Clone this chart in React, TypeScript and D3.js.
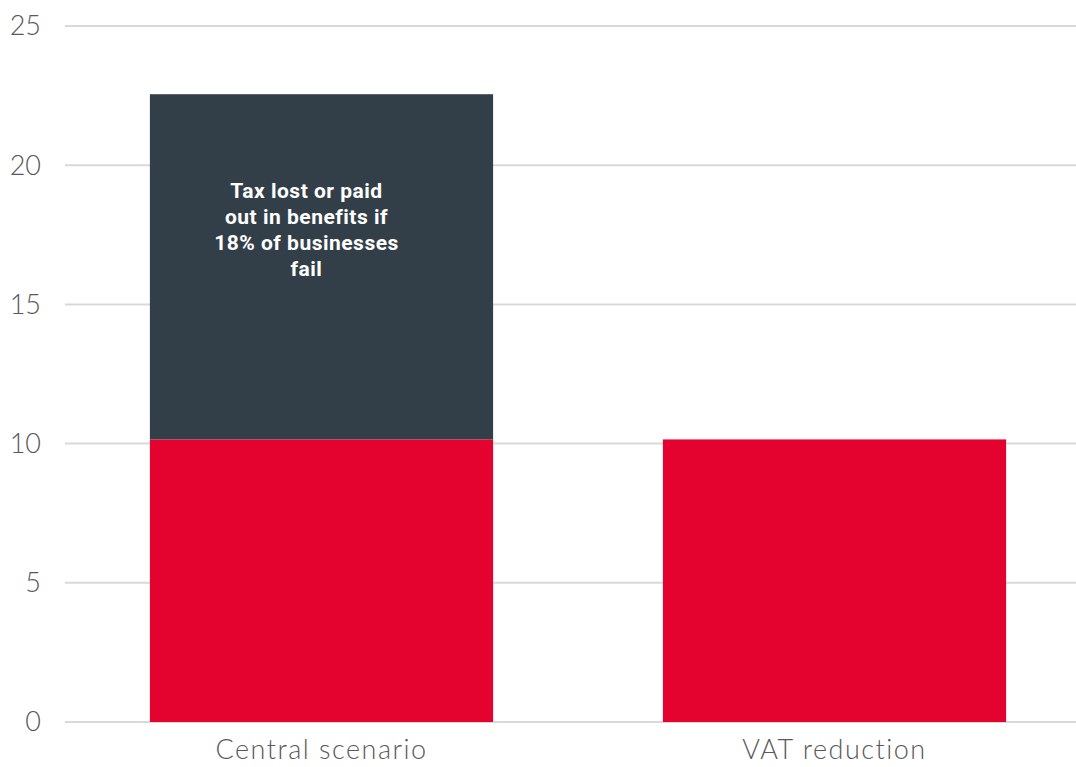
import { useEffect, useRef } from 'react';
import * as d3 from 'd3';

const categories = ['Central scenario', 'VAT reduction'];
const baseValues = [10.15, 10.15];
const extraValues = [12.4, 0];
const yTicks = [0, 5, 10, 15, 20, 25];
const noteLines = ['Tax lost or paid', 'out in benefits if', '18% of businesses', 'fail'];

const W = 1076;
const H = 767;

export default function App() {
  const svgRef = useRef<SVGSVGElement>(null);

  useEffect(() => {
    if (!svgRef.current) return;
    const svg = d3.select(svgRef.current);
    svg.selectAll('*').remove();

    const y = d3.scaleLinear().domain([0, 25]).range([722, 26]);
    const x = d3.scaleBand()
      .domain(categories)
      .range([65, 1091])
      .paddingInner(0.331)
      .paddingOuter(0.1655);

    // grid lines
    svg.selectAll('.grid')
      .data(yTicks)
      .enter()
      .append('line')
      .attr('x1', 65)
      .attr('x2', W)
      .attr('y1', d => y(d))
      .attr('y2', d => y(d))
      .style('stroke', '#d9d9d9')
      .style('stroke-width', 2);

    // y tick labels
    svg.selectAll('.ytick')
      .data(yTicks)
      .enter()
      .append('text')
      .attr('x', 41)
      .attr('y', d => y(d))
      .attr('text-anchor', 'end')
      .attr('dy', '0.35em')
      .style('fill', '#595959')
      .style('font-family', 'Lato, sans-serif')
      .style('font-weight', 300)
      .style('font-size', '27px')
      .text(d => d);

    // base (red) bars
    svg.selectAll('.base')
      .data(categories)
      .enter()
      .append('rect')
      .attr('x', d => x(d)!)
      .attr('width', x.bandwidth())
      .attr('y', (d, i) => y(baseValues[i]))
      .attr('height', (d, i) => y(0) - y(baseValues[i]))
      .style('fill', '#e4032e');

    // stacked (dark) bars
    svg.selectAll('.extra')
      .data(categories)
      .enter()
      .append('rect')
      .attr('x', d => x(d)!)
      .attr('width', x.bandwidth())
      .attr('y', (d, i) => y(baseValues[i] + extraValues[i]))
      .attr('height', (d, i) => y(baseValues[i]) - y(baseValues[i] + extraValues[i]))
      .style('fill', '#333f48');

    // category labels
    svg.selectAll('.xlabel')
      .data(categories)
      .enter()
      .append('text')
      .attr('x', d => x(d)! + x.bandwidth() / 2)
      .attr('y', 759)
      .attr('text-anchor', 'middle')
      .style('fill', '#595959')
      .style('font-family', 'Lato, sans-serif')
      .style('font-weight', 300)
      .style('font-size', '27px')
      .style('letter-spacing', '1.5px')
      .text(d => d);

    // annotation inside the dark segment
    const note = svg.append('text')
      .attr('text-anchor', 'middle')
      .style('fill', '#ffffff')
      .style('font-family', 'Roboto, sans-serif')
      .style('font-weight', 700)
      .style('font-size', '21px')
      .style('letter-spacing', '0.5px');
    noteLines.forEach((line, i) => {
      note.append('tspan')
        .attr('x', x(categories[0])! + x.bandwidth() / 2 - 15)
        .attr('y', 198 + i * 26)
        .text(line);
    });
  }, []);

  return (
    <svg
      ref={svgRef}
      width={W}
      height={H}
      style={{ position: 'absolute', left: 0, top: 0, background: '#fff' }}
    />
  );
}
